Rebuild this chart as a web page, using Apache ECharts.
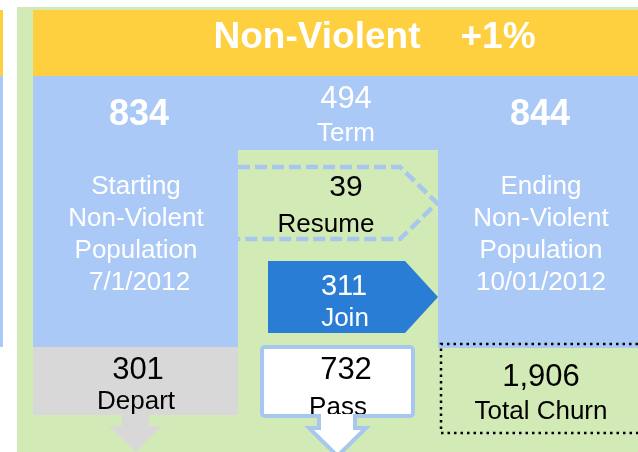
<!DOCTYPE html>
<html>
<head>
<meta charset="utf-8">
<script src="https://cdn.jsdelivr.net/npm/echarts@6/dist/echarts.min.js"></script>
<style>
html, body { margin: 0; padding: 0; background: #fff; }
#main { width: 638px; height: 452px; }
</style>
</head>
<body>
<div id="main"></div>
<script>
// 数据
const groupName = 'Non-Violent';
const changeLabel = '+1%';
const population = [834, 844];
const startLines = ['Starting', 'Non-Violent', 'Population', ' 7/1/2012'];
const endLines = ['Ending', 'Non-Violent', 'Population', '10/01/2012'];
const flowNames = ['Term', 'Resume', 'Join', 'Depart', 'Pass', 'Total Churn'];
const flowCounts = [494, 39, 311, 301, 732, 1906];

const FONT = "'Liberation Sans', Arial, sans-serif";
const yellow = '#fecf3e';
const lightBlue = '#abc9f6';
const green = '#d2eab6';
const gray = '#d8d8d8';
const joinBlue = '#2a7dd4';
const lineBlue = '#a7c7ee';

function txt(text, x, y, size, color, bold, z) {
  return {
    type: 'text',
    z: z || 10,
    style: {
      text: String(text),
      x: x, y: y + 2,
      fill: color,
      font: (bold ? 'bold ' : '') + size + 'px ' + FONT,
      textAlign: 'center',
      textVerticalAlign: 'middle'
    }
  };
}
function rect(x, y, w, h, fill, z) {
  return { type: 'rect', z: z || 1, shape: { x: x, y: y, width: w, height: h }, style: { fill: fill } };
}

const fmt = echarts.format.addCommas;
const els = [];

// 背景块
els.push(rect(0, 10, 3, 66, yellow));
els.push(rect(0, 76, 3, 271, lightBlue));
els.push(rect(17, 7, 621, 445, green));
els.push(rect(33, 10, 605, 66, yellow, 2));
els.push(rect(33, 76, 605, 271, lightBlue, 2));
els.push(rect(438, 347, 200, 1, lightBlue, 2));
els.push(rect(238, 150, 200, 302, green, 3));
els.push(rect(33, 347, 205, 68, gray, 3));

// Depart 箭头
els.push({
  type: 'polygon', z: 3,
  shape: { points: [[122, 414], [149, 414], [149, 426], [162, 426], [135.5, 452], [109, 426], [122, 426]] },
  style: { fill: gray }
});

// Resume 虚线
els.push({
  type: 'polyline', z: 4,
  shape: { points: [[238, 167], [400, 167], [437, 203], [400, 239], [238, 239]] },
  style: { stroke: lineBlue, lineWidth: 4.5, lineDash: [12, 5], fill: null }
});

// Join 箭头
els.push({
  type: 'polygon', z: 4,
  shape: { points: [[268, 261], [405, 261], [438, 297], [405, 333], [268, 333]] },
  style: { fill: joinBlue }
});

// Pass 框
els.push({ type: 'rect', z: 4, shape: { x: 262, y: 347, width: 151, height: 69 }, style: { fill: '#fff' } });
els.push({ type: 'rect', z: 12, shape: { x: 262, y: 347, width: 151, height: 69, r: 3 }, style: { fill: null, stroke: lineBlue, lineWidth: 4 } });
els.push({
  type: 'polygon', z: 12,
  shape: { points: [[319, 418], [319, 428], [309, 428], [337.5, 456], [366, 428], [355, 428], [355, 418]] },
  style: { fill: '#fff', stroke: lineBlue, lineWidth: 4 }
});
els.push(rect(321, 414, 32, 8, '#fff', 13));

// Total Churn 点线
els.push({
  type: 'polyline', z: 5,
  shape: { points: [[638, 344], [441, 344], [441, 433], [638, 433]] },
  style: { stroke: '#000', lineWidth: 2.5, lineDash: [2.5, 4], fill: null }
});

// 文字
els.push(txt(groupName, 317, 36, 37, '#fff', true));
els.push(txt(changeLabel, 498, 36, 37, '#fff', true));
els.push(txt(population[0], 139, 113, 36, '#fff', true));
els.push(txt(population[1], 540, 113, 36, '#fff', true));
startLines.forEach(function (s, i) { els.push(txt(s, 136, 185 + i * 32, 26, '#fff', false)); });
endLines.forEach(function (s, i) { els.push(txt(s, 541, 185 + i * 32, 26, '#fff', false)); });

els.push(txt(flowCounts[0], 346, 97, 31, '#fff', false));
els.push(txt(flowNames[0], 346, 132, 26, '#fff', false));
els.push(txt(flowCounts[1], 346, 186, 30, '#000', false));
els.push(txt(flowNames[1], 326, 223, 26, '#000', false));
els.push(txt(flowCounts[2], 344, 285, 29, '#fff', false));
els.push(txt(flowNames[2], 345, 317, 26, '#fff', false));
els.push(txt(flowCounts[3], 138, 368, 31, '#000', false));
els.push(txt(flowNames[3], 136, 400, 26, '#000', false));
els.push(txt(flowCounts[4], 346, 368, 31, '#000', false));
els.push(txt(flowNames[4], 338, 406, 26, '#000', false));
els.push(txt(fmt(flowCounts[5]), 541, 375, 31, '#000', false));
els.push(txt(flowNames[5], 541, 410, 26, '#000', false));

const myChart = echarts.init(document.getElementById('main'), null, { renderer: 'canvas' });
myChart.setOption({
  animation: false,
  graphic: { elements: els }
});
</script>
</body>
</html>
